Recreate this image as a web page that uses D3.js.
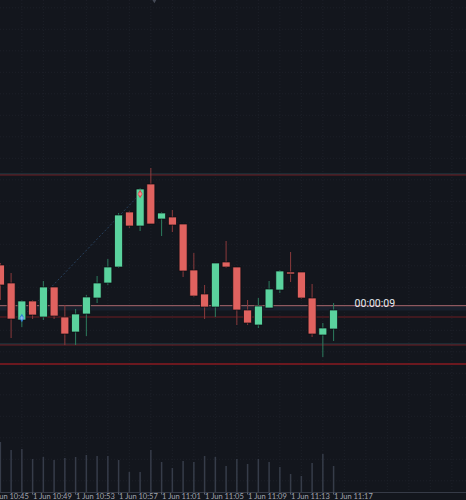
<!DOCTYPE html>
<html>
<head>
<meta charset="utf-8">
<script src="https://cdn.jsdelivr.net/npm/d3@7"></script>
<style>
  html, body { margin: 0; padding: 0; background: #13161d; }
  svg { display: block; }
</style>
</head>
<body>
<div id="chart"></div>
<script>
// one-minute candles, 1 Jun, starting 10:46
const startTime = '2023-06-01T10:46:00';
const opens  = [235, 217, 180, 199, 183, 213, 183, 168, 186, 202, 217, 233, 288, 274, 316, 281,
                283, 276, 230, 206, 193, 238, 233, 190, 175, 192, 210, 228, 228, 202, 165, 171];
const highs  = [237, 227, 200, 200, 219, 213, 195, 191, 205, 224, 241, 287, 289, 312, 332, 288,
                290, 276, 247, 215, 237, 259, 233, 200, 202, 219, 230, 248, 228, 216, 177, 197];
const lows   = [200, 162, 173, 181, 180, 181, 155, 155, 164, 197, 215, 232, 272, 269, 276, 264,
                268, 223, 203, 181, 183, 232, 175, 175, 172, 192, 207, 218, 201, 163, 143, 159];
const closes = [215, 181, 199, 185, 213, 184, 166, 186, 203, 217, 233, 285, 274, 311, 276, 287,
                275, 229, 204, 193, 237, 233, 190, 177, 194, 211, 229, 226, 202, 166, 172, 190];
const volumes = [50, 42, 43, 33, 35, 32, 34, 35, 37, 36, 36, 32, 20, 20, 42, 30,
                 24, 31, 30, 36, 35, 26, 33, 28, 33, 30, 25, 18, 16, 29, 38, 26];

// horizontal levels drawn across the chart
const redLevels = [325, 183, 155];
const strongLevel = 136;
const lastPriceLevel = 194.3;
const countdown = '00:00:09';

// trade markers: [candle index, price]
const buyMark = [2, 182];
const sellMark = [13, 306];

const width = 466;
const height = 500;
const green = '#5ad39e';
const red = '#e0625f';

const t0 = new Date(startTime);
const candles = opens.map((o, i) => ({
  time: d3.timeMinute.offset(t0, i),
  open: o, high: highs[i], low: lows[i], close: closes[i], volume: volumes[i]
}));

const svg = d3.select('#chart')
  .append('svg')
  .attr('width', width)
  .attr('height', height)
  .style('background', '#13161d');

const x = d3.scaleTime()
  .domain([d3.timeSecond.offset(t0, -1.7), d3.timeSecond.offset(t0, -1.7 + 466 / 10.75 * 60)])
  .range([0, width]);
const y = d3.scaleLinear().domain([0, 500]).range([500, 0]);
const vy = d3.scaleLinear().domain([0, 50]).range([492, 442]);

// grid
const grid = svg.append('g').attr('stroke', '#1d2029').attr('stroke-dasharray', '1,2');
grid.selectAll('line.v')
  .data(d3.timeMinute.every(2).range(d3.timeMinute.offset(t0, 1), x.domain()[1]))
  .enter().append('line')
  .attr('x1', (d) => x(d)).attr('x2', (d) => x(d))
  .attr('y1', 0).attr('y2', 492);
grid.selectAll('line.h')
  .data(d3.range(492.2, 0, -21.5))
  .enter().append('line')
  .attr('x1', 0).attr('x2', width)
  .attr('y1', (d) => y(d)).attr('y2', (d) => y(d));

// band under last price line
svg.append('rect')
  .attr('x', 0).attr('width', width)
  .attr('y', y(lastPriceLevel) + 0.8)
  .attr('height', 4)
  .attr('fill', '#1a202d');

// levels
svg.selectAll('line.shadow')
  .data([redLevels[0], redLevels[2]])
  .enter().append('line')
  .attr('x1', 0).attr('x2', width)
  .attr('y1', (d) => y(d) - 1).attr('y2', (d) => y(d) - 1)
  .attr('stroke', '#24404a').attr('stroke-width', 1);
svg.selectAll('line.level')
  .data(redLevels)
  .enter().append('line')
  .attr('x1', 0).attr('x2', width)
  .attr('y1', (d) => y(d)).attr('y2', (d) => y(d))
  .attr('stroke', '#6e1d22').attr('stroke-width', 1);
svg.append('line')
  .attr('x1', 0).attr('x2', width)
  .attr('y1', y(strongLevel)).attr('y2', y(strongLevel))
  .attr('stroke', '#8a1a20').attr('stroke-width', 1.5);
svg.append('line')
  .attr('x1', 0).attr('x2', width)
  .attr('y1', y(lastPriceLevel)).attr('y2', y(lastPriceLevel))
  .attr('stroke', '#8e5960').attr('stroke-width', 1.2);

// volume
svg.selectAll('rect.vol')
  .data(candles)
  .enter().append('rect')
  .attr('x', (d) => x(d.time) - 0.75)
  .attr('width', 1.5)
  .attr('y', (d) => vy(d.volume))
  .attr('height', (d) => vy(0) - vy(d.volume))
  .attr('fill', '#363c49');

// trade link
svg.append('line')
  .attr('x1', x(candles[buyMark[0]].time)).attr('y1', y(buyMark[1]))
  .attr('x2', x(candles[sellMark[0]].time)).attr('y2', y(sellMark[1]))
  .attr('stroke', '#27405c').attr('stroke-width', 1)
  .attr('stroke-dasharray', '2,2');

// candles
const c = svg.selectAll('g.candle')
  .data(candles)
  .enter().append('g')
  .attr('transform', (d) => `translate(${x(d.time)},0)`);

c.append('line')
  .attr('y1', (d) => y(d.high))
  .attr('y2', (d) => y(d.low))
  .attr('stroke', (d) => d.close >= d.open ? '#2d7c5e' : '#8a3a3c')
  .attr('stroke-width', 1);

c.append('rect')
  .attr('x', -4)
  .attr('width', 8)
  .attr('y', (d) => y(Math.max(d.open, d.close)))
  .attr('height', (d) => Math.max(1.5, Math.abs(y(d.open) - y(d.close))))
  .attr('fill', (d) => d.close >= d.open ? green : red)
  .attr('stroke', '#0c0e13')
  .attr('stroke-width', 0.7);

// markers
const mark = (m, color) => {
  const mx = x(candles[m[0]].time);
  const my = y(m[1]);
  svg.append('path')
    .attr('d', d3.symbol(d3.symbolDiamond, 22)())
    .attr('transform', `translate(${mx},${my})`)
    .attr('fill', color);
  svg.append('path')
    .attr('d', `M${mx - 2},${my}H${mx + 2}M${mx},${my - 2}V${my + 2}`)
    .attr('stroke', '#ffffff').attr('stroke-opacity', 0.6).attr('stroke-width', 0.8);
};
mark(buyMark, '#2f7fd6');
mark(sellMark, '#e0424a');

// small marker at top
svg.append('path')
  .attr('d', d3.symbol(d3.symbolTriangle, 14)())
  .attr('transform', `translate(${x(candles[14].time) + 3.5},0) rotate(180)`)
  .attr('fill', '#454a56');

// countdown label
svg.append('text')
  .attr('x', x(candles[candles.length - 1].time) + 21)
  .attr('y', y(lastPriceLevel) + 1.5)
  .attr('font-family', 'Roboto, sans-serif')
  .attr('font-size', 10.5)
  .attr('fill', '#e8eaf0')
  .text(countdown);

// time axis
svg.append('line')
  .attr('x1', 0).attr('x2', width)
  .attr('y1', 492.5).attr('y2', 492.5)
  .attr('stroke', '#363b47');

const ticks = d3.range(-1, 32, 4).map((i) => d3.timeMinute.offset(t0, i));
const fmt = d3.timeFormat('%-d %b %H:%M');
const axis = svg.append('g');
axis.selectAll('line')
  .data(ticks)
  .enter().append('line')
  .attr('x1', (d) => x(d)).attr('x2', (d) => x(d))
  .attr('y1', 492.5).attr('y2', 494.5)
  .attr('stroke', '#6c717c');
axis.selectAll('text')
  .data(ticks)
  .enter().append('text')
  .attr('x', (d) => x(d) + 0.5)
  .attr('y', 498.5)
  .attr('font-family', 'Lato, sans-serif')
  .attr('font-size', 7.5)
  .attr('fill', '#a3a7b0')
  .text((d) => fmt(d));
</script>
</body>
</html>
